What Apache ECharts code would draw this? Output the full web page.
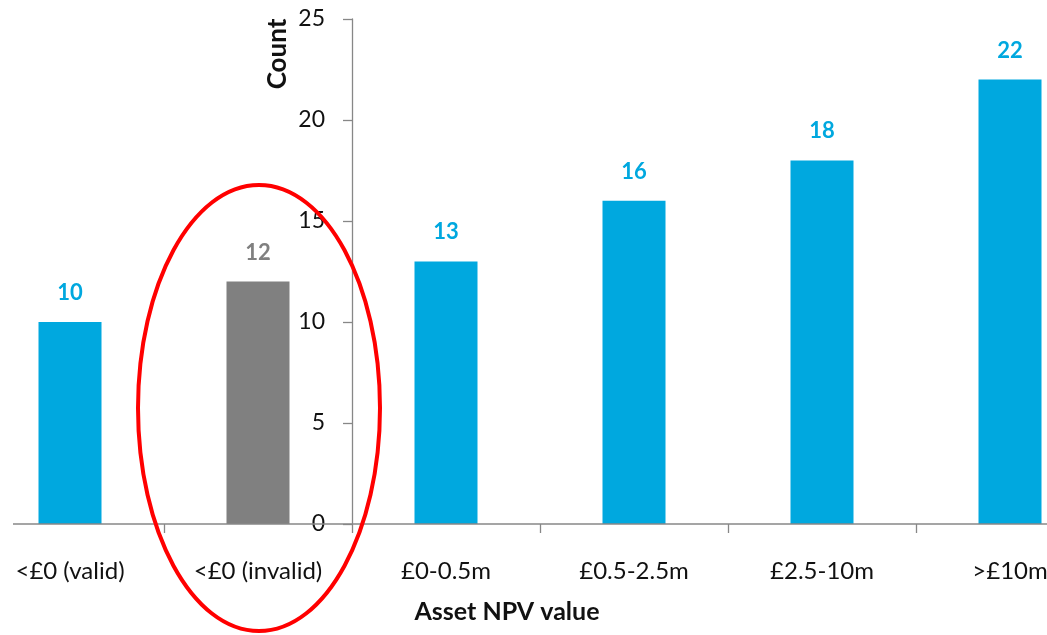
<!DOCTYPE html>
<html>
<head>
<meta charset="utf-8">
<script src="https://cdn.jsdelivr.net/npm/echarts@6/dist/echarts.min.js"></script>
<style>
html,body{margin:0;padding:0;background:#fff;overflow:hidden;width:1047px;height:635px;position:relative;}
#main{position:absolute;left:-24px;top:0;width:1128px;height:635px;}
</style>
</head>
<body>
<div id="main"></div>
<script>
const categories = ['<£0 (valid)', '<£0 (invalid)', '£0-0.5m', '£0.5-2.5m', '£2.5-10m', '>£10m'];
const counts = [10, 12, 13, 16, 18, 22];
const highlighted = [false, true, false, false, false, false];
const yTicks = [0, 5, 10, 15, 20, 25];

const BLUE = '#00a8df';
const GRAY = '#808080';
const AXIS = '#878787';
const FONT = 'Lato, "Open Sans", sans-serif';
const SHIFT = 24; // container is shifted left by this many px

const chart = echarts.init(document.getElementById('main'), null, {renderer: 'canvas'});

const option = {
  animation: false,
  backgroundColor: '#ffffff',
  grid: {left: 0, right: 0, top: 19, bottom: 111, containLabel: false},
  xAxis: {
    type: 'category',
    data: categories,
    axisLine: {show: false},
    axisTick: {show: true, length: 9, lineStyle: {color: AXIS, width: 1.3}},
    axisLabel: {color: '#111', fontFamily: FONT, fontSize: 24, margin: 35, interval: 0},
    splitLine: {show: false}
  },
  yAxis: {
    type: 'value',
    min: yTicks[0],
    max: yTicks[yTicks.length - 1],
    interval: 5,
    position: 'left',
    offset: -(352 + SHIFT),
    axisLine: {show: true, lineStyle: {color: AXIS, width: 1.3}},
    axisTick: {show: true, length: 9, lineStyle: {color: AXIS, width: 1.3}},
    axisLabel: {color: '#111', fontFamily: FONT, fontSize: 23, margin: 27},
    splitLine: {show: false}
  },
  series: [{
    type: 'bar',
    data: counts.map((v, i) => ({
      value: v,
      itemStyle: {color: highlighted[i] ? GRAY : BLUE},
      label: {color: highlighted[i] ? GRAY : BLUE}
    })),
    barWidth: 63,
    label: {
      show: true,
      position: 'top',
      distance: 18,
      fontFamily: FONT,
      fontWeight: 'bold',
      fontSize: 22
    }
  }]
};
chart.setOption(option);

const y0 = chart.convertToPixel({yAxisIndex: 0}, 0);
const invX = chart.convertToPixel({xAxisIndex: 0}, categories[1]);
chart.setOption({
  graphic: [
    {
      type: 'line', z: 5,
      shape: {x1: 13 + SHIFT, y1: y0, x2: 1047 + SHIFT, y2: y0},
      style: {stroke: AXIS, lineWidth: 1.3}
    },
    {
      type: 'text',
      x: 278 + SHIFT, y: 54, rotation: Math.PI / 2,
      style: {text: 'Count', font: 'bold 26px ' + FONT, fill: '#111', align: 'center', verticalAlign: 'middle'}
    },
    {
      type: 'text',
      x: 507 + SHIFT, y: 612,
      style: {text: 'Asset NPV value', font: 'bold 25px ' + FONT, fill: '#111', align: 'center', verticalAlign: 'middle'}
    },
    {
      type: 'ellipse', z: 10,
      shape: {cx: invX + 1, cy: 408, rx: 121, ry: 223},
      style: {fill: 'none', stroke: '#ff0000', lineWidth: 4}
    }
  ]
});
</script>
</body>
</html>
